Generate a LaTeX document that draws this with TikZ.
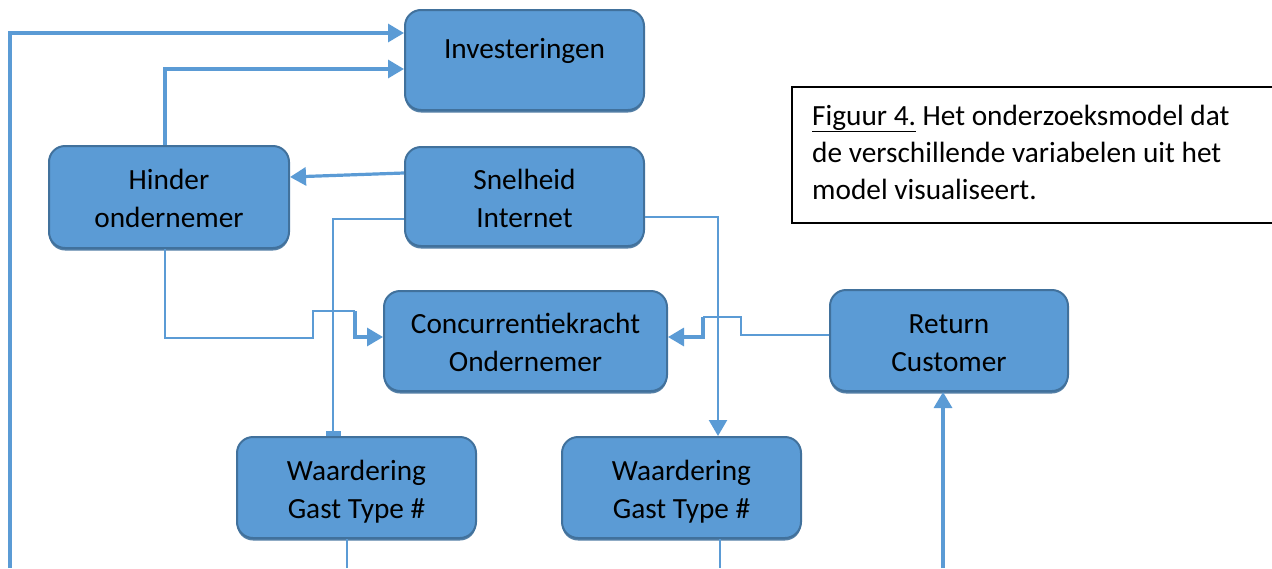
\documentclass[tikz,border=0pt]{standalone}
\usepackage{fontspec}
\setmainfont{Carlito}
\usetikzlibrary{arrows.meta,shadows}
\definecolor{boxblue}{HTML}{5B9BD5}
\definecolor{boxedge}{HTML}{41719C}
\definecolor{lineblue}{HTML}{5B9BD5}
\newcommand{\boxtxt}[2]{\raisebox{#1}[\height][\depth]{\begin{tabular}{@{}c@{}}#2\end{tabular}}}
\begin{document}
\begin{tikzpicture}[x=1pt,y=-1pt,
  box/.style={draw=boxedge, fill=boxblue, line width=2pt, rounded corners=16pt,
    align=center, inner sep=0pt, font=\fontsize{29.3}{38}\selectfont,
    drop shadow={shadow xshift=0pt, shadow yshift=-2.5pt, fill=boxedge, opacity=0.9}},
  conn/.style={draw=lineblue, line width=3.2pt},
  thinline/.style={draw=lineblue, line width=1.6pt},
  tri/.style={-{Triangle[length=16pt,width=18pt]}},
  captext/.style={anchor=base west, inner sep=0pt, font=\fontsize{29.3}{37}\selectfont}]
\useasboundingbox (0,0) rectangle (1272,568);
\clip (0,0) rectangle (1272,568);

% boxes
\node[box, minimum width=239pt, minimum height=100pt] (inv) at (524.5,60) {\raisebox{9pt}[\height][\depth]{Investeringen}};
\node[box, minimum width=240pt, minimum height=102pt] (hin) at (169,197) {\boxtxt{-4pt}{Hinder\\ondernemer}};
\node[box, minimum width=239pt, minimum height=99pt] (sne) at (524.5,196.5) {\boxtxt{-4pt}{Snelheid\\Internet}};
\node[box, minimum width=283pt, minimum height=100pt] (con) at (525.5,341) {\boxtxt{-4pt}{Concurrentiekracht\\Ondernemer}};
\node[box, minimum width=238pt, minimum height=101pt] (ret) at (949,340.5) {\boxtxt{-4pt}{Return\\Customer}};
\node[box, minimum width=239pt, minimum height=101pt] (wl) at (356.5,487.5) {\boxtxt{-4pt}{Waardering\\Gast Type \#}};
\node[box, minimum width=239pt, minimum height=101pt] (wr) at (681.5,487.5) {\boxtxt{-4pt}{Waardering\\Gast Type \#}};

% connectors
\coordinate (bl) at (10,568);
\draw[conn,tri] (bl) |- ([yshift=27pt]inv.west);
\draw[conn,tri] ([xshift=-4pt]hin.north) |- ([yshift=-9pt]inv.west);
\draw[conn,tri] ([yshift=23.5pt]sne.west) -- ([yshift=20pt]hin.east);
\draw[conn, line width=2.4pt, -{Rectangle[length=5pt,width=15pt]}] ([yshift=-22.5pt]sne.west) -| ([xshift=-23.5pt]wl.north);
\draw[conn, line width=2.4pt, tri] ([yshift=-20.5pt]sne.east) -| ([xshift=36.5pt]wr.north);

\coordinate (ha) at (313,311);
\coordinate (hb) at (355,311);
\draw[thinline] ([xshift=-4pt]hin.south) -- ++(0,89) -| (ha) -- (hb);
\draw[conn,tri] (hb) |- ([yshift=4pt]con.west);

\coordinate (ra) at (741,317);
\coordinate (rb) at (703,317);
\draw[thinline] ([yshift=5.5pt]ret.west) -| (ra) -- (rb);
\draw[conn,tri] (rb) |- ([yshift=4pt]con.east);

\coordinate (br) at (943,568);
\draw[conn,tri] (br) -- ([xshift=-6pt]ret.south);
\coordinate (b1) at (347,568);
\draw[thinline] ([xshift=-9.5pt]wl.south) -- (b1);
\coordinate (b2) at (720,568);
\draw[thinline] ([xshift=38.5pt]wr.south) -- (b2);

% caption box
\draw[black, line width=1.6pt] (792,87) rectangle (1290,223);
\node[captext] (c1) at (812,125) {\underline{Figuur 4.} Het onderzoeksmodel dat};
\node[captext] (c2) at (812,162) {de verschillende variabelen uit het};
\node[captext] (c3) at (812,199) {model visualiseert.};
\end{tikzpicture}
\end{document}
